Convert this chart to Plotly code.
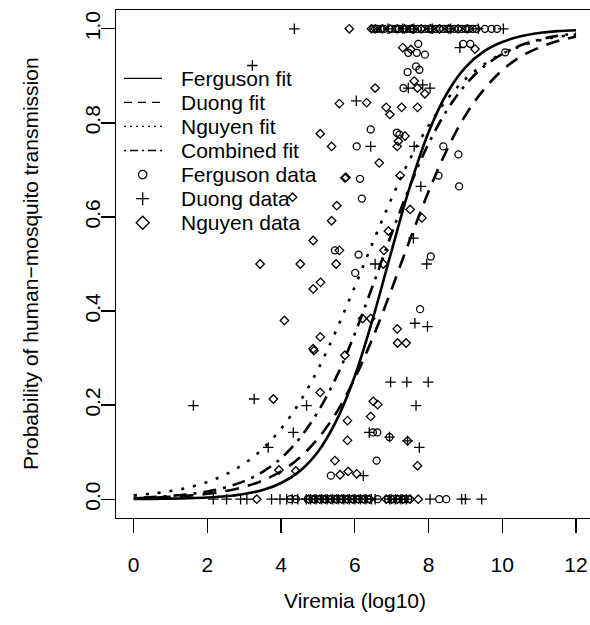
import plotly.graph_objects as go

# ---------------- data ----------------
fit_x = [0, 0.5, 1, 1.5, 2, 2.5, 3, 3.5, 4, 4.5, 5, 5.5, 6, 6.5, 7, 7.5, 8, 8.5,
         9, 9.5, 10, 10.5, 11, 11.5, 12]
ferguson_fit = [0.0004, 0.0006, 0.0011, 0.0020, 0.0036, 0.0063, 0.0111, 0.0196, 0.0344,
                0.0595, 0.101, 0.167, 0.262, 0.387, 0.529, 0.666, 0.780, 0.863, 0.918,
                0.952, 0.972, 0.984, 0.991, 0.995, 0.997]
duong_fit = [0.0021, 0.0032, 0.0049, 0.0075, 0.0114, 0.0173, 0.0263, 0.0397, 0.0594,
             0.088, 0.129, 0.184, 0.257, 0.346, 0.447, 0.553, 0.654, 0.743, 0.816,
             0.871, 0.912, 0.941, 0.960, 0.974, 0.983]
nguyen_fit = [0.0081, 0.0118, 0.0172, 0.0251, 0.0365, 0.0528, 0.0757, 0.107, 0.150,
              0.206, 0.276, 0.360, 0.452, 0.548, 0.640, 0.724, 0.794, 0.850, 0.893,
              0.924, 0.947, 0.963, 0.975, 0.983, 0.988]
combined_fit = [0.0029, 0.0045, 0.0070, 0.0107, 0.0165, 0.0253, 0.0385, 0.0582, 0.0872,
                0.129, 0.186, 0.260, 0.352, 0.457, 0.565, 0.667, 0.756, 0.827, 0.881,
                0.920, 0.946, 0.965, 0.977, 0.985, 0.990]

# Ferguson data (circles)
ferguson_x = [7.72, 7.45, 7.68, 7.90, 8.94, 9.13, 10.08, 7.43, 7.66, 7.75, 7.32, 6.43,
              7.14, 7.21, 6.05, 8.40, 8.81, 6.14, 8.27, 8.83, 6.19, 5.46, 6.10, 6.01,
              8.06, 7.77, 6.49, 6.61, 6.94, 6.59, 5.35,
              # y = 1
              6.50, 6.60, 6.70, 6.80, 7.00, 7.10, 7.20, 7.30, 7.40, 7.50, 7.60, 7.70,
              7.80, 7.90, 8.00, 8.10, 8.20, 8.30, 8.40, 8.50, 8.60, 8.70, 8.80, 8.90,
              9.00, 9.10, 9.20, 9.30, 9.53, 9.71, 9.86,
              # y = 0
              4.25, 4.40, 4.72, 4.85, 5.00, 5.15, 5.30, 5.45, 5.60, 5.75, 5.90, 6.05,
              6.20, 6.35, 6.62, 6.90, 7.05, 7.20, 7.35, 7.45, 8.29, 8.48]
ferguson_y = [0.968, 0.949, 0.949, 0.945, 0.968, 0.968, 0.950, 0.908, 0.920, 0.913, 0.874,
              0.786, 0.779, 0.775, 0.750, 0.750, 0.733, 0.681, 0.688, 0.665, 0.639, 0.529,
              0.520, 0.481, 0.516, 0.404, 0.142, 0.142, 0.132, 0.082, 0.050,
              1, 1, 1, 1, 1, 1, 1, 1, 1, 1, 1, 1, 1, 1, 1, 1, 1, 1, 1, 1, 1, 1, 1, 1,
              1, 1, 1, 1, 1, 1, 1,
              0, 0, 0, 0, 0, 0, 0, 0, 0, 0, 0, 0, 0, 0, 0, 0, 0, 0, 0, 0, 0, 0]

# Duong data (plus)
duong_x = [3.22, 8.85, 7.84, 8.04, 7.45, 6.04, 6.43, 7.61, 7.79, 7.59, 6.55, 7.95, 7.63,
           7.97, 6.97, 7.41, 7.99, 1.62, 3.27, 4.69, 7.66, 4.33, 3.65, 6.39, 6.94, 7.43,
           7.75, 6.23,
           # y = 1
           4.36, 6.90, 7.30, 7.60, 8.10, 8.60, 9.35, 10.03,
           # y = 0
           2.16, 2.52, 2.90, 3.07, 3.74, 3.97, 4.15, 4.30, 4.45, 4.68, 4.80, 4.95, 5.10,
           5.25, 5.40, 5.55, 5.70, 5.85, 6.00, 6.15, 6.30, 6.45, 6.55, 6.95, 7.10, 7.25,
           7.40, 8.04, 8.90, 9.00, 9.44]
duong_y = [0.922, 0.960, 0.881, 0.874, 0.874, 0.847, 0.750, 0.750, 0.665, 0.555, 0.500,
           0.500, 0.374, 0.367, 0.249, 0.249, 0.249, 0.199, 0.213, 0.199, 0.199, 0.142,
           0.110, 0.142, 0.132, 0.124, 0.110, 0.050,
           1, 1, 1, 1, 1, 1, 1, 1,
           0, 0, 0, 0, 0, 0, 0, 0, 0, 0, 0, 0, 0, 0, 0, 0, 0, 0, 0, 0, 0, 0, 0, 0, 0, 0,
           0, 0, 0, 0, 0]

# Nguyen data (diamonds)
nguyen_x = [5.58, 5.06, 5.37, 5.76, 4.31, 5.51, 5.37, 4.87, 5.58, 7.30, 7.52, 9.26, 7.61,
            7.70, 7.90, 6.55, 6.32, 6.85, 6.95, 7.27, 7.70, 7.36, 7.18, 7.15, 6.66, 5.73,
            7.23, 7.50, 7.82, 6.91, 6.79, 3.43, 4.52, 5.49, 4.87, 5.07, 4.09, 5.06, 4.87,
            4.89, 5.73, 5.06, 3.79, 5.80, 6.77, 6.21, 6.43, 7.15, 7.16, 7.39, 6.50, 6.62,
            6.43, 3.94, 4.40, 5.80, 5.46, 5.60, 5.82, 6.05, 7.43, 7.70,
            # y = 1
            5.85, 6.45, 6.55, 6.75, 6.95, 7.15, 7.35, 7.55, 7.80, 8.05, 8.30, 8.55, 8.80,
            9.05,
            # y = 0
            3.34, 4.75, 4.90, 5.05, 5.20, 5.35, 5.50, 5.65, 5.80, 5.95, 6.10, 6.25, 6.40,
            6.85, 7.00, 7.15, 7.30, 7.50, 7.72]
nguyen_y = [0.841, 0.777, 0.750, 0.684, 0.642, 0.624, 0.592, 0.550, 0.529, 0.960, 0.956,
            0.957, 0.889, 0.874, 0.862, 0.874, 0.843, 0.833, 0.818, 0.833, 0.833, 0.772,
            0.761, 0.750, 0.715, 0.683, 0.688, 0.616, 0.598, 0.570, 0.529, 0.500, 0.500,
            0.500, 0.447, 0.461, 0.380, 0.345, 0.320, 0.316, 0.306, 0.227, 0.213, 0.167,
            0.500, 0.384, 0.384, 0.362, 0.332, 0.332, 0.208, 0.201, 0.176, 0.062, 0.060,
            0.125, 0.082, 0.052, 0.059, 0.054, 0.124, 0.071,
            1, 1, 1, 1, 1, 1, 1, 1, 1, 1, 1, 1, 1, 1,
            0, 0, 0, 0, 0, 0, 0, 0, 0, 0, 0, 0, 0, 0, 0, 0, 0, 0, 0]

legend_labels = ["Ferguson fit", "Duong fit", "Nguyen fit", "Combined fit",
                 "Ferguson data", "Duong data", "Nguyen data"]
x_ticks = [0, 2, 4, 6, 8, 10, 12]
y_ticks = [0.0, 0.2, 0.4, 0.6, 0.8, 1.0]
y_tick_text = ["0.0", "0.2", "0.4", "0.6", "0.8", "1.0"]

# ---------------- figure ----------------
W, H = 590, 625
ML, MR, MT, MB = 116, 0, 10, 107
FONT = "Liberation Sans, Arial, Helvetica, sans-serif"
FS = 21

fig = go.Figure()

line_w = 2.6
fit_styles = [
    (ferguson_fit, "solid"),
    (duong_fit, "14px,9px"),
    (nguyen_fit, "3px,9px"),
    (combined_fit, "3px,7px,13px,7px"),
]
for (ys, dash), name in zip(fit_styles, legend_labels[:4]):
    fig.add_trace(go.Scatter(x=fit_x, y=ys, mode="lines", name=name,
                             line=dict(color="black", width=line_w, dash=dash,
                                       shape="spline", smoothing=1.0)))

mk_line = dict(color="black", width=1.3)
fig.add_trace(go.Scatter(x=ferguson_x, y=ferguson_y, mode="markers", name=legend_labels[4],
                         marker=dict(symbol="circle-open", size=7, color="black", line=mk_line)))
fig.add_trace(go.Scatter(x=duong_x, y=duong_y, mode="markers", name=legend_labels[5],
                         marker=dict(symbol="cross-thin-open", size=7.5, color="black", line=mk_line)))
fig.add_trace(go.Scatter(x=nguyen_x, y=nguyen_y, mode="markers", name=legend_labels[6],
                         marker=dict(symbol="diamond-open", size=6.5, color="black", line=mk_line)))

# pixel -> paper helpers (for the hand-drawn legend and titles)
PW = W - ML - MR
PH = H - MT - MB


def px(xp):
    return (xp - ML) / PW


def py(yp):
    return (H - MB - yp) / PH


shapes = []
annotations = []
row0, row_gap = 78.3, 24.07
lx0, lx1, mx, tx = 124, 162, 142.7, 179
leg_dashes = ["solid", "8px,6px", "2px,4px", "2px,4px,8px,4px"]
for i, lab in enumerate(legend_labels):
    yc = row0 + i * row_gap
    if i < 4:
        shapes.append(dict(type="line", xref="paper", yref="paper",
                           x0=px(lx0), x1=px(lx1), y0=py(yc), y1=py(yc),
                           line=dict(color="black", width=1.3, dash=leg_dashes[i])))
    elif i == 4:
        r = 4.2
        shapes.append(dict(type="circle", xref="paper", yref="paper",
                           x0=px(mx - r), x1=px(mx + r), y0=py(yc + r), y1=py(yc - r),
                           line=dict(color="black", width=1.3)))
    elif i == 5:
        r = 6.5
        shapes.append(dict(type="line", xref="paper", yref="paper",
                           x0=px(mx - r), x1=px(mx + r), y0=py(yc), y1=py(yc),
                           line=dict(color="black", width=1.3)))
        shapes.append(dict(type="line", xref="paper", yref="paper",
                           x0=px(mx), x1=px(mx), y0=py(yc - r), y1=py(yc + r),
                           line=dict(color="black", width=1.3)))
    else:
        r = 6.5
        path = (f"M {px(mx - r)} {py(yc)} L {px(mx)} {py(yc - r)} "
                f"L {px(mx + r)} {py(yc)} L {px(mx)} {py(yc + r)} Z")
        shapes.append(dict(type="path", xref="paper", yref="paper", path=path,
                           line=dict(color="black", width=1.3)))
    annotations.append(dict(text=lab, xref="paper", yref="paper", x=px(tx), y=py(yc),
                            xanchor="left", yanchor="middle", showarrow=False,
                            font=dict(family=FONT, size=FS, color="black")))

# axis titles
annotations.append(dict(text="Viremia (log10)", xref="paper", yref="paper",
                        x=px(355), y=py(600), xanchor="center", yanchor="middle",
                        showarrow=False, font=dict(family=FONT, size=FS, color="black")))
annotations.append(dict(text="Probability of human\u2212mosquito transmission",
                        xref="paper", yref="paper", x=px(30), y=py(264),
                        xanchor="center", yanchor="middle", textangle=-90,
                        showarrow=False, font=dict(family=FONT, size=FS, color="black")))

axis_common = dict(showgrid=False, zeroline=False, showline=True, linecolor="black",
                   linewidth=1.3, ticks="outside", ticklen=14, tickwidth=1.3,
                   tickcolor="black", tickfont=dict(family=FONT, size=FS, color="black"))

fig.update_xaxes(range=[-0.48, 12.38], tickvals=x_ticks, mirror=True,
                 ticklabelstandoff=13, **axis_common)
fig.update_yaxes(range=[-0.04, 1.04], tickvals=y_ticks, ticktext=y_tick_text,
                 tickangle=-90, mirror=False, ticklabelstandoff=-8, **axis_common)

fig.update_layout(width=W, height=H, margin=dict(l=ML, r=MR, t=MT, b=MB),
                  plot_bgcolor="white", paper_bgcolor="white", showlegend=False,
                  shapes=shapes, annotations=annotations,
                  font=dict(family=FONT, size=FS, color="black"))

fig.write_html("out.html", config={"displayModeBar": False, "staticPlot": True},
               post_script="document.body.style.margin='0px';document.body.style.overflow='hidden';")
